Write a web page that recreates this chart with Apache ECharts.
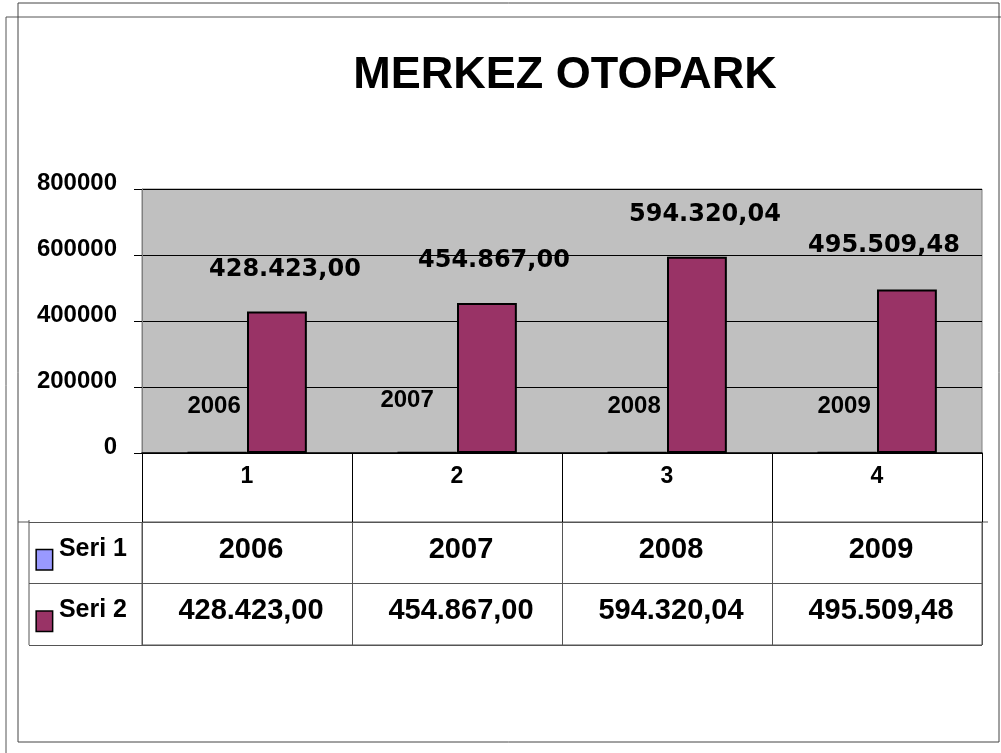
<!DOCTYPE html>
<html>
<head>
<meta charset="utf-8">
<script src="https://cdn.jsdelivr.net/npm/echarts@6/dist/echarts.min.js"></script>
<style>
  html, body { margin: 0; padding: 0; background: #fff; }
  #main { width: 1001px; height: 753px; }
</style>
</head>
<body>
<div id="main"></div>
<script>
var chartDom = document.getElementById('main');
var myChart = echarts.init(chartDom);
var option;

const categories = ['1', '2', '3', '4'];
const seriesNames = ['Seri 1', 'Seri 2'];
const seri1 = [2006, 2007, 2008, 2009];
const seri2 = [428423.00, 454867.00, 594320.04, 495509.48];
const yTicks = [0, 200000, 400000, 600000, 800000];

// label nudges as placed by hand in the original sheet
const seri1Nudge = [[-3, 0], [-20, -6], [-3, 0], [-3, 0]];
const seri2Nudge = [[8, 0], [7, 0], [8, 0], [-23, -2]];

function trNumber(v) {
  var parts = v.toFixed(2).split('.');
  var intPart = parts[0].replace(/\B(?=(\d{3})+(?!\d))/g, '.');
  return intPart + ',' + parts[1];
}

const colors = ['#9999FF', '#993366'];
const bold = { fontWeight: 'bold', color: '#000', fontFamily: 'Liberation Sans, Arial, sans-serif' };

option = {
  backgroundColor: '#fff',
  animation: false,
  title: {
    text: 'MERKEZ OTOPARK',
    left: 560,
    top: 48,
    textAlign: 'center',
    textStyle: { fontSize: 45, fontWeight: 'bold', color: '#000', fontFamily: 'Liberation Sans, Arial, sans-serif' }
  },
  graphic: [
    { type: 'rect', shape: { x: 6, y: 17, width: 1020, height: 760 }, style: { fill: 'none', stroke: '#555', lineWidth: 1 }, silent: true },
    { type: 'rect', shape: { x: 18, y: 3, width: 981, height: 739 }, style: { fill: 'none', stroke: '#444', lineWidth: 1 }, silent: true },
    { type: 'line', shape: { x1: 29, y1: 520, x2: 29, y2: 645 }, style: { stroke: '#555', lineWidth: 1 }, silent: true },
    { type: 'line', shape: { x1: 18, y1: 522, x2: 29, y2: 522 }, style: { stroke: '#555', lineWidth: 1 }, silent: true },
    { type: 'line', shape: { x1: 982, y1: 522, x2: 988, y2: 522 }, style: { stroke: '#555', lineWidth: 1 }, silent: true }
  ],
  grid: [
    { left: 142, right: 19, top: 189, bottom: 300, show: true, backgroundColor: '#C0C0C0', borderColor: '#808080', borderWidth: 1 },
    { left: 142, right: 19, top: 522, bottom: 108, show: true, backgroundColor: 'transparent', borderColor: '#555', borderWidth: 1 }
  ],
  xAxis: [
    {
      type: 'category',
      gridIndex: 0,
      data: categories,
      axisLine: { lineStyle: { color: '#000', width: 1.5 } },
      axisTick: { show: true, interval: 0, length: 69, lineStyle: { color: '#000', width: 1 } },
      axisLabel: Object.assign({ fontSize: 23, margin: 12, interval: 0 }, bold),
      splitLine: { show: false }
    },
    {
      type: 'category',
      gridIndex: 1,
      data: categories,
      axisLine: { show: false },
      axisTick: { show: false },
      axisLabel: { show: false },
      splitLine: { show: true, interval: 0, lineStyle: { color: '#555', width: 1 } }
    }
  ],
  yAxis: [
    {
      type: 'value',
      gridIndex: 0,
      min: yTicks[0],
      max: yTicks[yTicks.length - 1],
      interval: yTicks[1] - yTicks[0],
      axisLine: { show: true, lineStyle: { color: '#808080' } },
      axisTick: { show: true, length: 8, lineStyle: { color: '#000' } },
      axisLabel: Object.assign({
        fontSize: 24, margin: 25, verticalAlign: 'bottom', lineHeight: 12,
        formatter: function (v) { return String(v); }
      }, bold),
      splitLine: { show: true, lineStyle: { color: '#000', width: 1 } }
    },
    {
      type: 'category',
      gridIndex: 1,
      data: seriesNames,
      inverse: true,
      axisLine: { show: false },
      axisTick: { show: true, interval: 0, length: 113, lineStyle: { color: '#555', width: 1 } },
      splitLine: { show: true, interval: 0, lineStyle: { color: '#555', width: 1 } },
      axisLabel: {
        margin: 15,
        interval: 0,
        formatter: function (v, i) { return '{m' + i + '|}{t|' + v + '}'; },
        rich: {
          m0: { width: 15, height: 19, backgroundColor: colors[0], borderColor: '#000', borderWidth: 1.5, verticalAlign: 'bottom' },
          m1: { width: 15, height: 19, backgroundColor: colors[1], borderColor: '#000', borderWidth: 1.5, verticalAlign: 'bottom' },
          t: Object.assign({ fontSize: 25, padding: [0, 0, 8, 7] }, bold)
        }
      }
    }
  ],
  series: [
    {
      name: seriesNames[0],
      type: 'bar',
      xAxisIndex: 0,
      yAxisIndex: 0,
      barGap: '0%',
      barCategoryGap: '43%',
      itemStyle: { color: colors[0], borderColor: '#000', borderWidth: 2 },
      label: Object.assign({ show: true, position: 'top', distance: 33, fontSize: 24 }, bold),
      data: seri1.map(function (v, i) {
        return { value: v, label: { offset: seri1Nudge[i] } };
      })
    },
    {
      name: seriesNames[1],
      type: 'bar',
      xAxisIndex: 0,
      yAxisIndex: 0,
      barGap: '0%',
      barCategoryGap: '43%',
      itemStyle: { color: colors[1], borderColor: '#000', borderWidth: 2 },
      label: {
        show: true, position: 'top', distance: 30, fontSize: 24, fontWeight: 'bold', color: '#000',
        fontFamily: 'DejaVu Sans, sans-serif',
        formatter: function (p) { return trNumber(p.value); }
      },
      data: seri2.map(function (v, i) {
        return { value: v, label: { offset: seri2Nudge[i] } };
      })
    },
    {
      name: 'table',
      type: 'scatter',
      xAxisIndex: 1,
      yAxisIndex: 1,
      symbolSize: 0,
      silent: true,
      itemStyle: { opacity: 1 },
      label: Object.assign({
        show: true, position: 'inside', fontSize: 29, offset: [4, -3],
        formatter: function (p) { return p.value[2]; }
      }, bold),
      data: [].concat(
        seri1.map(function (v, i) { return [i, 0, String(v)]; }),
        seri2.map(function (v, i) { return [i, 1, trNumber(v)]; })
      )
    }
  ]
};

option && myChart.setOption(option);
</script>
</body>
</html>
